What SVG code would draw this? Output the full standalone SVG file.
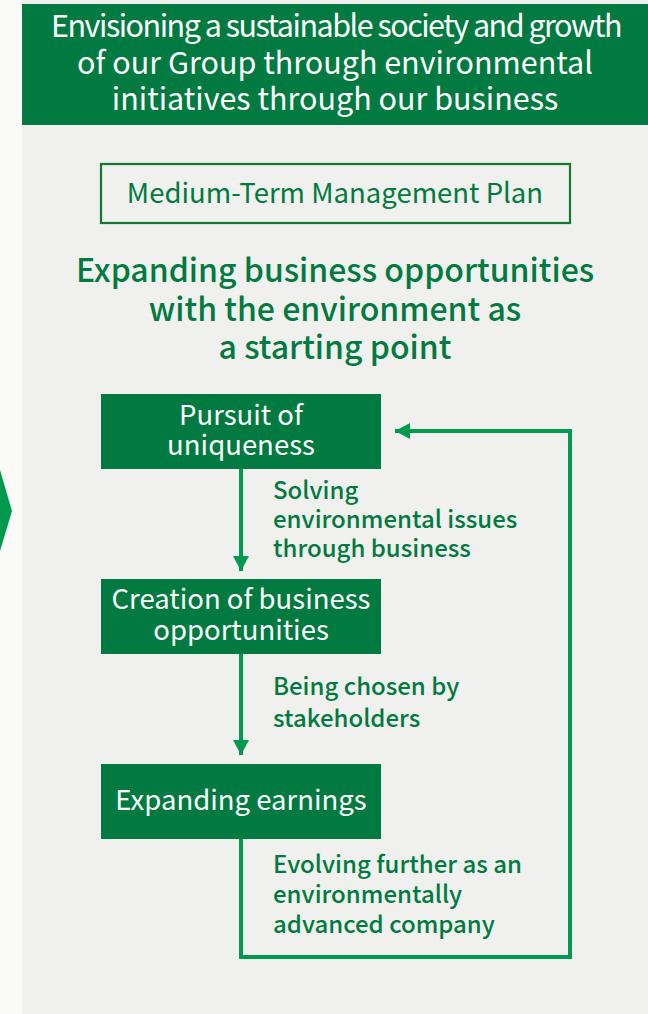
<svg xmlns="http://www.w3.org/2000/svg" width="648" height="1014" viewBox="0 0 648 1014">
  <defs>
    <style>
      .t { font-family: "Noto Sans CJK JP", "Noto Sans", sans-serif; }
      .head { fill: #ffffff; font-size: 30.5px; text-anchor: middle; }
      .tight { letter-spacing: -1.5px; }
      .title { fill: #007a40; font-size: 32px; font-weight: 500; text-anchor: middle; }
      .plan { fill: #007a40; font-size: 27.5px; text-anchor: middle; }
      .box { fill: #007a40; }
      .boxtxt { fill: #ffffff; font-size: 27.5px; text-anchor: middle; }
      .lbl { fill: #007a40; font-size: 24px; font-weight: 500; }
      .conn { fill: none; stroke: #009a4e; stroke-width: 4; }
    </style>
    <marker id="arrow" markerWidth="16" markerHeight="16" refX="15" refY="8" orient="auto" markerUnits="userSpaceOnUse">
      <path d="M0,0 L15,8 L0,16 Z" fill="#009a4e"/>
    </marker>
  </defs>

  <!-- backgrounds -->
  <rect x="0" y="0" width="648" height="1014" fill="#fafaf8"/>
  <rect x="22" y="0" width="626" height="1014" fill="#f0f0ee"/>
  <polygon points="0,470 12,511 0,551" fill="#009a4e"/>

  <!-- header band -->
  <g id="header">
    <rect x="22" y="4" width="626" height="121" fill="#007a40"/>
    <text class="t head tight" x="336" y="37">Envisioning a sustainable society and growth</text>
    <text class="t head" x="335" y="74">of our Group through environmental</text>
    <text class="t head" x="335" y="110">initiatives through our business</text>
  </g>

  <g id="plan">
    <rect x="101" y="164" width="469" height="59" fill="none" stroke="#15782f" stroke-width="2.2"/>
    <text class="t plan" x="335" y="203">Medium-Term Management Plan</text>
  </g>

  <g id="title">
    <text class="t title" x="335" y="282">Expanding business opportunities</text>
    <text class="t title" x="335" y="321">with the environment as</text>
    <text class="t title" x="335" y="359">a starting point</text>
  </g>

  <!-- connectors -->
  <g id="connectors">
    <line class="conn" x1="241" y1="469" x2="241" y2="571" marker-end="url(#arrow)"/>
    <line class="conn" x1="241" y1="654" x2="241" y2="755" marker-end="url(#arrow)"/>
    <path class="conn" d="M241,839 V957 H570 V431 H395" marker-end="url(#arrow)"/>
  </g>

  <g id="node-uniqueness">
    <rect class="box" x="101" y="394" width="280" height="75"/>
    <text class="t boxtxt" x="241" y="425">Pursuit of</text>
    <text class="t boxtxt" x="241" y="455">uniqueness</text>
  </g>

  <g id="node-opportunities">
    <rect class="box" x="101" y="579" width="280" height="75"/>
    <text class="t boxtxt" x="241" y="609">Creation of business</text>
    <text class="t boxtxt" x="241" y="640">opportunities</text>
  </g>

  <g id="node-earnings">
    <rect class="box" x="101" y="764" width="280" height="75"/>
    <text class="t boxtxt" x="241" y="810">Expanding earnings</text>
  </g>

  <g id="labels">
    <text class="t lbl" x="273" y="499">Solving</text>
    <text class="t lbl" x="273" y="528">environmental issues</text>
    <text class="t lbl" x="273" y="557">through business</text>
    <text class="t lbl" x="273" y="695">Being chosen by</text>
    <text class="t lbl" x="273" y="727">stakeholders</text>
    <text class="t lbl" x="273" y="873">Evolving further as an</text>
    <text class="t lbl" x="273" y="903">environmentally</text>
    <text class="t lbl" x="273" y="933">advanced company</text>
  </g>
</svg>
